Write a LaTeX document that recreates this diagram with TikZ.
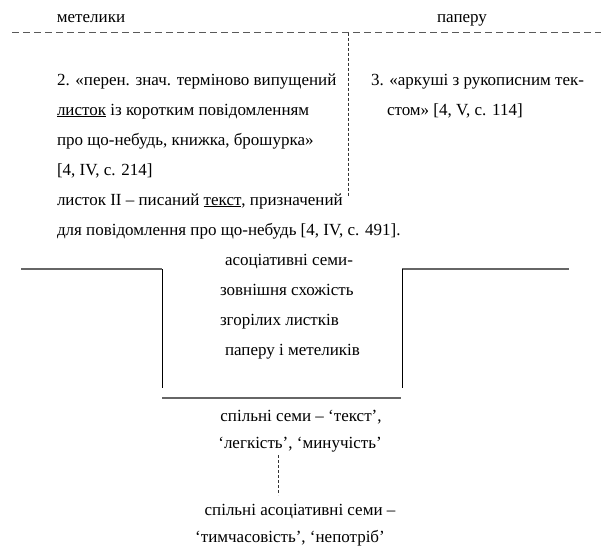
\documentclass[tikz,border=0pt]{standalone}
\usepackage{fontspec}
\setmainfont{Liberation Serif}
\newcommand{\fsz}{\fontsize{17}{20}\selectfont}
\begin{document}
\begin{tikzpicture}[x=1pt,y=-1pt,
  txt/.style={inner sep=0pt, outer sep=0pt, font=\fsz, anchor=base west},
  ctxt/.style={inner sep=0pt, outer sep=0pt, font=\fsz, anchor=base},
  topdash/.style={draw=black!65, line width=1.3pt, dash pattern=on 7pt off 4pt},
  finedash/.style={draw=black!80, line width=0.8pt, dash pattern=on 3pt off 2pt},
  hline/.style={draw=black!60, line width=1.5pt},
  vline/.style={draw=black, line width=0.9pt}]
\useasboundingbox (0,0) rectangle (601,547);
% top labels
\node[ctxt] (met) at (91,22) {метелики};
\node[ctxt] (pap) at (462,22) {паперу};
\coordinate (dl) at (12,32.5);
\coordinate (dr) at (601,32.5);
\draw[topdash] (dl) -- (dr);
\coordinate (vt) at (348,32.5);
\coordinate (vb) at (348,197);
\draw[finedash] (vt) -- (vb);
% left block
\node[txt] (l1) at (57,85) {2. «перен. знач. терміново випущений};
\node[txt] (l2) at (57,115) {\underline{листок} із коротким повідомленням};
\node[txt] (l3) at (57,145) {про що-небудь, книжка, брошурка»};
\node[txt] (l4) at (57,175) {[4, IV, с. 214]};
\node[txt] (l5) at (57,205) {листок II – писаний \underline{текст}, призначений};
\node[txt] (l6) at (57,235) {для повідомлення про що-небудь [4, IV, с. 491].};
% right block
\node[txt] (r1) at (371,85) {3. «аркуші з рукописним тек-};
\node[txt] (r2) at (387,115) {стом» [4, V, с. 114]};
% middle block
\node[txt] (m1) at (225,265) {асоціативні семи-};
\node[txt] (m2) at (220,295) {зовнішня схожість};
\node[txt] (m3) at (220,325) {згорілих листків};
\node[txt] (m4) at (225,355) {паперу і метеликів};
% frame
\coordinate (a1) at (21,269);
\coordinate (a2) at (162,269);
\coordinate (a3) at (162,388);
\coordinate (b1) at (569,269);
\coordinate (b2) at (402,269);
\coordinate (b3) at (402,388);
\coordinate (c1) at (162,398);
\coordinate (c2) at (401,398);
\draw[hline] (a1) -- (a2);
\draw[hline] (b2) -- (b1);
\draw[vline] (a2) -- (a3);
\draw[vline] (b2) -- (b3);
\draw[hline] (c1) -- (c2);
% bottom block
\node[ctxt] (s1) at (301,421) {спільні семи – ‘текст’,};
\node[ctxt] (s2) at (300,448) {‘легкість’, ‘минучість’};
\coordinate (et) at (278,455);
\coordinate (eb) at (278,495);
\draw[finedash] (et) -- (eb);
\node[ctxt] (s3) at (300,515) {спільні асоціативні семи –};
\node[ctxt] (s4) at (290,542) {‘тимчасовість’, ‘непотріб’};
\end{tikzpicture}
\end{document}
